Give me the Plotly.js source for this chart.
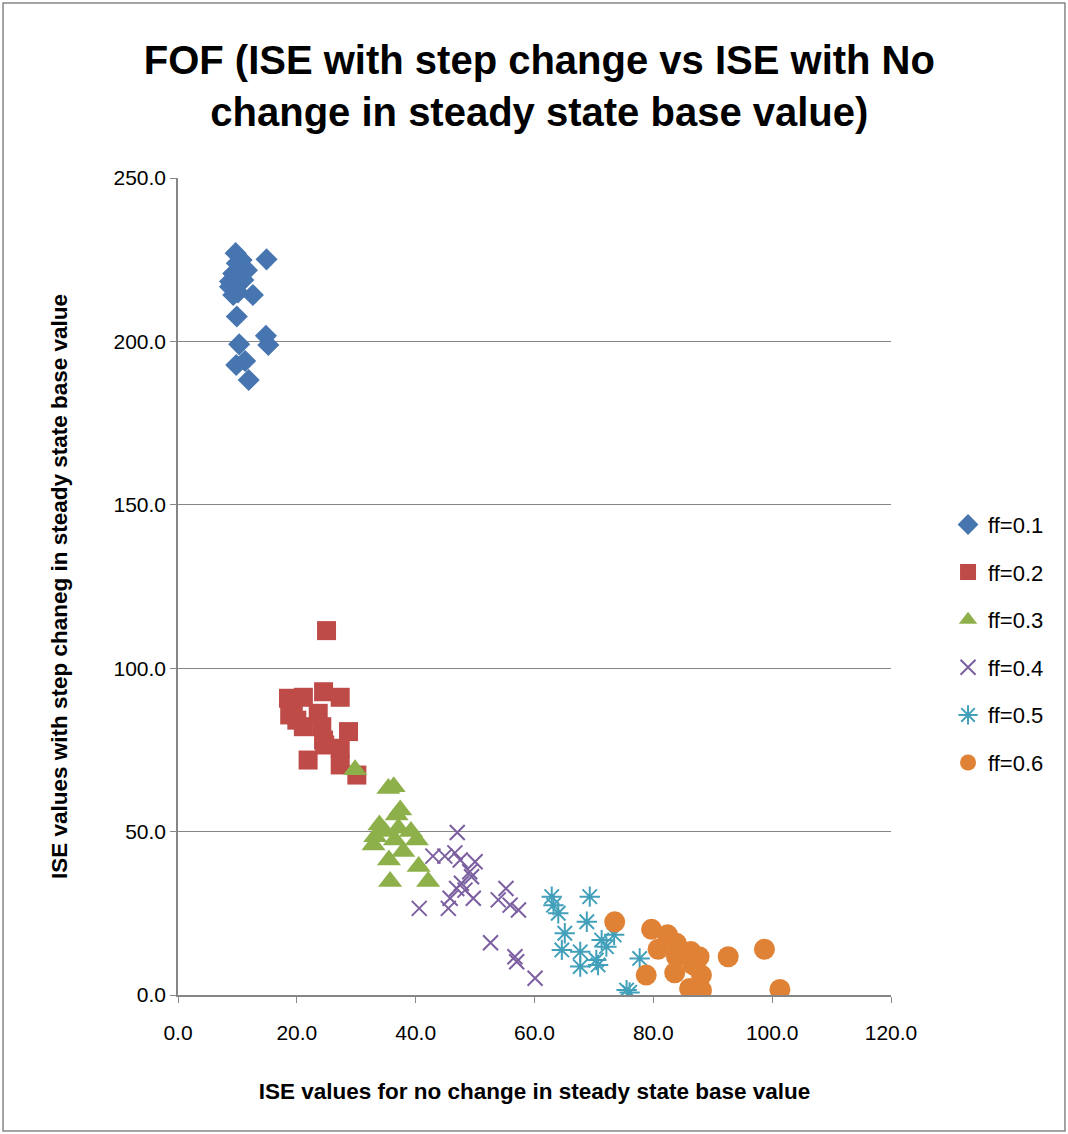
<!DOCTYPE html>
<html>
<head>
<meta charset="utf-8">
<script src="https://cdn.plot.ly/plotly-3.0.1.min.js"></script>
<style>html,body{margin:0;padding:0;background:#fff;}#chart{width:1068px;height:1134px;}</style>
</head>
<body>
<div id="chart"></div>
<script>
// ff=0.1
const ff1_x = [9.7, 14.9, 10.7, 9.9, 11.6, 9.3, 8.75, 11.0, 8.75, 9.3, 12.6, 9.9, 10.3, 14.8, 15.2, 9.8, 11.3, 11.9, 10.4, 10.1];
const ff1_y = [227.0, 225.1, 224.9, 223.9, 221.8, 220.8, 218.3, 218.8, 216.7, 214.2, 214.2, 207.6, 199.1, 201.7, 198.9, 192.8, 194.0, 188.2, 222.4, 215.0];
// ff=0.2
const ff2_x = [25.0, 18.6, 21.1, 24.5, 27.3, 19.4, 20.0, 23.6, 21.1, 24.2, 28.7, 24.5, 27.3, 21.9, 27.3, 30.1, 24.7, 18.8];
const ff2_y = [111.5, 90.8, 91.1, 92.8, 91.1, 87.2, 84.1, 86.2, 82.1, 82.1, 80.6, 78.0, 75.5, 71.9, 70.4, 67.3, 76.5, 85.7];
// ff=0.3
const ff3_x = [29.8, 36.3, 35.4, 37.4, 36.8, 33.9, 34.8, 37.1, 39.2, 40.2, 33.2, 32.9, 36.5, 37.9, 35.5, 40.5, 42.1, 35.7];
const ff3_y = [68.9, 63.7, 63.2, 56.6, 55.1, 52.0, 50.0, 51.0, 50.0, 47.4, 48.4, 45.9, 47.4, 43.9, 41.3, 39.3, 34.7, 34.7];
// ff=0.4
const ff4_x = [47.0, 42.9, 44.9, 46.6, 47.5, 50.0, 49.1, 49.4, 47.7, 46.9, 48.3, 49.7, 45.8, 45.5, 40.6, 55.2, 53.9, 55.9, 57.3, 52.6, 56.7, 57.0, 60.1];
const ff4_y = [49.7, 42.5, 42.5, 43.5, 41.3, 40.8, 37.7, 36.2, 34.2, 32.6, 32.1, 29.6, 29.6, 26.5, 26.5, 32.6, 29.1, 27.5, 26.0, 16.0, 11.7, 10.2, 5.1];
// ff=0.5
const ff5_x = [62.9, 69.3, 63.2, 64.0, 68.8, 65.1, 71.3, 64.6, 67.7, 72.1, 70.4, 67.7, 70.7, 77.7, 75.5, 76.0, 73.4];
const ff5_y = [30.1, 30.1, 27.5, 25.0, 22.4, 18.9, 16.8, 13.8, 13.2, 14.8, 10.7, 8.7, 9.2, 11.2, 1.5, 0.8, 18.4];
// ff=0.6
const ff6_x = [73.5, 79.7, 82.4, 80.8, 83.9, 86.3, 87.7, 83.9, 86.7, 88.1, 83.6, 78.8, 86.1, 88.1, 92.6, 98.7, 101.3];
const ff6_y = [22.4, 20.1, 18.4, 14.0, 15.8, 13.3, 11.7, 11.7, 9.2, 6.1, 6.8, 6.1, 2.0, 1.5, 11.7, 14.0, 1.7];

const seriesNames = ['ff=0.1', 'ff=0.2', 'ff=0.3', 'ff=0.4', 'ff=0.5', 'ff=0.6'];
const xs = [ff1_x, ff2_x, ff3_x, ff4_x, ff5_x, ff6_x];
const ys = [ff1_y, ff2_y, ff3_y, ff4_y, ff5_y, ff6_y];
const colors = ['#4675B0', '#BE4B48', '#8EB04B', '#7B5FA0', '#42A0BA', '#E08236'];
const symbols = ['diamond', 'square', 'triangle-up', 'x-thin-open', 'asterisk-open', 'circle'];
const sizes = [17, 19, 21, 15, 17, 21];

const traces = seriesNames.map((n, i) => ({
  type: 'scatter', mode: 'markers', name: n, x: xs[i], y: ys[i],
  legendgroup: 'g' + i,
  marker: {symbol: symbols[i], size: sizes[i], color: colors[i], line: {color: colors[i], width: (i === 3 || i === 4) ? 2 : 0}}
}));

const layout = {
  width: 1068, height: 1134,
  margin: {l: 178, r: 177, t: 178, b: 139},
  paper_bgcolor: '#fff', plot_bgcolor: '#fff',
  font: {family: 'Liberation Sans, Arial, sans-serif', color: '#000'},
  title: {text: '<b>FOF (ISE with step change vs ISE with No<br>change in steady state base value)</b>', x: 0.505, xanchor: 'center', y: 0.935, yanchor: 'top', font: {size: 40, color: '#000'}},
  xaxis: {range: [0, 120], dtick: 20, tickformat: '.1f', showgrid: false, zeroline: false,
    showline: true, linecolor: '#868686', linewidth: 1.5, ticks: 'outside', ticklen: 6, tickcolor: '#868686',
    ticklabelstandoff: 12,
    tickfont: {size: 21}, title: {text: '<b>ISE values for no change in steady state base value</b>', font: {size: 22.5}, standoff: 40}},
  yaxis: {range: [0, 250], dtick: 50, tickformat: '.1f', showgrid: true, gridcolor: '#868686', gridwidth: 1.2, zeroline: false,
    showline: true, linecolor: '#868686', linewidth: 1.5, ticks: 'outside', ticklen: 6, tickcolor: '#868686',
    tickfont: {size: 21}, title: {text: '<b>ISE values with step chaneg in steady state base value</b>', font: {size: 22.5}, standoff: 40}},
  legend: {x: 1.08, y: 0.43, xanchor: 'left', yanchor: 'middle', font: {size: 22}, traceorder: 'grouped', tracegroupgap: 16, itemwidth: 30},
  shapes: [{type: 'rect', xref: 'paper', yref: 'paper', x0: -0.2454, x1: 1.244, y0: -0.1665, y1: 1.2142, line: {color: '#868686', width: 1.5}}]
};

Plotly.newPlot('chart', traces, layout, {displayModeBar: false});
</script>
</body>
</html>
